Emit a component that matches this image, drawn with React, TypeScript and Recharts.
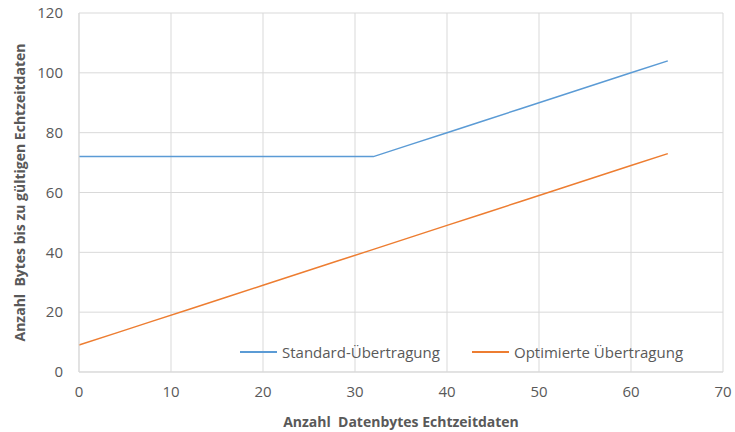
import { CartesianGrid, Legend, Line, LineChart, XAxis, YAxis } from "recharts";

const xValues = [0, 4, 8, 12, 16, 20, 24, 28, 32, 36, 40, 44, 48, 52, 56, 60, 64];
const standardBytes = [72, 72, 72, 72, 72, 72, 72, 72, 72, 76, 80, 84, 88, 92, 96, 100, 104];
const optimizedBytes = [9, 13, 17, 21, 25, 29, 33, 37, 41, 45, 49, 53, 57, 61, 65, 69, 73];
const xTicks = [0, 10, 20, 30, 40, 50, 60, 70];
const yTicks = [0, 20, 40, 60, 80, 100, 120];

const seriesNames = ["Standard-Übertragung", "Optimierte Übertragung"];
const BLUE = "#5B9BD5";
const ORANGE = "#ED7D31";
const TEXT = "#595959";
const GRID = "#D9D9D9";
const FONT = "'Open Sans', sans-serif";

const rows = xValues.map((x, i) => ({
  x,
  standard: standardBytes[i],
  optimized: optimizedBytes[i],
}));

function LegendContent() {
  const items = [
    { name: seriesNames[0], color: BLUE, left: 240 },
    { name: seriesNames[1], color: ORANGE, left: 472 },
  ];
  return (
    <div style={{ position: "relative", height: 20, fontFamily: FONT, fontSize: 15, color: TEXT }}>
      {items.map((item) => (
        <div
          key={item.name}
          style={{ position: "absolute", left: item.left, top: 0, display: "flex", alignItems: "center", height: 20 }}
        >
          <span style={{ display: "inline-block", width: 37, height: 2, background: item.color, marginRight: 5 }} />
          <span style={{ whiteSpace: "nowrap" }}>{item.name}</span>
        </div>
      ))}
    </div>
  );
}

export default function App() {
  return (
    <div style={{ position: "absolute", left: 0, top: 0, background: "#fff" }}>
      <LineChart width={735} height={432} data={rows} margin={{ top: 13, right: 12, bottom: 0, left: 0 }}>
        <CartesianGrid stroke={GRID} strokeWidth={1} />
        <XAxis
          dataKey="x"
          type="number"
          domain={[0, 70]}
          ticks={xTicks}
          height={60}
          stroke={GRID}
          tickLine={false}
          tickSize={0}
          tickMargin={14}
          tick={{ fill: TEXT, fontSize: 15, fontFamily: FONT }}
          label={{
            value: "Anzahl\u00A0 Datenbytes Echtzeitdaten",
            position: "insideBottom",
            offset: 5,
            style: { fill: TEXT, fontSize: 14, fontWeight: 700, fontFamily: FONT },
          }}
        />
        <YAxis
          type="number"
          domain={[0, 120]}
          ticks={yTicks}
          width={79}
          stroke={GRID}
          tickLine={false}
          tickSize={0}
          tickMargin={16}
          tick={{ fill: TEXT, fontSize: 15, fontFamily: FONT }}
          label={{
            value: "Anzahl\u00A0 Bytes bis zu gültigen Echtzeitdaten",
            angle: -90,
            position: "insideLeft",
            offset: 20,
            style: { fill: TEXT, fontSize: 14, fontWeight: 700, fontFamily: FONT, textAnchor: "middle" },
          }}
        />
        <Legend
          layout="horizontal"
          verticalAlign="middle"
          content={<LegendContent />}
          wrapperStyle={{ left: 0, top: 342, width: 735, height: 20 }}
        />
        <Line
          dataKey="standard"
          name={seriesNames[0]}
          stroke={BLUE}
          strokeWidth={1.5}
          dot={false}
          isAnimationActive={false}
        />
        <Line
          dataKey="optimized"
          name={seriesNames[1]}
          stroke={ORANGE}
          strokeWidth={1.5}
          dot={false}
          isAnimationActive={false}
        />
      </LineChart>
    </div>
  );
}
